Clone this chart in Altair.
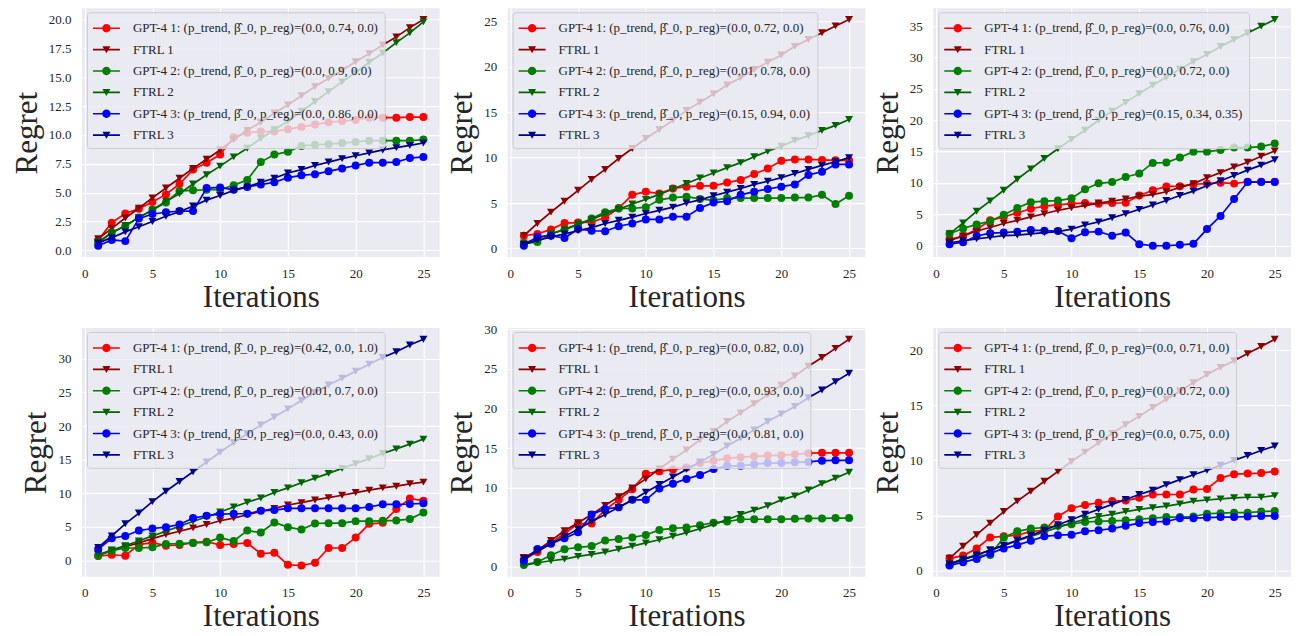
import altair as alt
import pandas as pd

# ---------------- data ----------------
ITERATIONS = list(range(1, 26))
X_TICKS = [0, 5, 10, 15, 20, 25]

SERIES = ["GPT-4 1", "FTRL 1", "GPT-4 2", "FTRL 2", "GPT-4 3", "FTRL 3"]
SERIES_ID = [0, 1, 2, 3, 4, 5]
COLORS = ["#ff0000", "#8b0000", "#008000", "#006400", "#0000ff", "#00008b"]
PARAM_NAME = "(p_trend, β̂_0, p_reg)"

# panel 1 (top-left)
P1_PARAMS = ["(0.0, 0.74, 0.0)", "(0.0, 0.9, 0.0)", "(0.0, 0.86, 0.0)"]
P1_YTICKS = [0, 2.5, 5, 7.5, 10, 12.5, 15, 17.5, 20]
P1_GPT1 = [0.9, 2.4, 3.2, 3.6, 4.2, 4.85, 5.75, 7.0, 7.6, 8.3, 9.8, 10.2, 10.3, 10.3, 10.5, 10.7, 10.9, 11.1, 11.2, 11.3, 11.5, 11.5, 11.5, 11.55, 11.55]
P1_FTRL1 = [1.0, 1.9, 2.8, 3.65, 4.55, 5.4, 6.25, 7.1, 7.9, 8.7, 9.6, 10.4, 11.1, 11.9, 12.6, 13.4, 14.2, 14.9, 15.6, 16.35, 17.05, 17.8, 18.5, 19.3, 20.0]
P1_GPT2 = [0.7, 1.55, 2.1, 2.85, 3.5, 4.15, 5.15, 5.2, 5.25, 5.25, 5.65, 6.1, 7.65, 8.3, 8.55, 9.05, 9.15, 9.2, 9.3, 9.4, 9.5, 9.5, 9.5, 9.5, 9.6]
P1_FTRL2 = [0.7, 1.5, 2.15, 2.85, 3.5, 4.25, 4.9, 5.75, 6.55, 7.3, 8.1, 8.85, 9.7, 10.45, 11.2, 12.05, 12.9, 13.75, 14.6, 15.4, 16.3, 17.1, 18.0, 18.85, 19.8]
P1_GPT3 = [0.4, 0.9, 0.8, 2.75, 3.15, 3.3, 3.4, 3.4, 5.4, 5.45, 5.25, 5.5, 5.7, 5.9, 6.3, 6.5, 6.6, 6.85, 7.1, 7.35, 7.6, 7.6, 7.65, 8.0, 8.1]
P1_FTRL3 = [0.65, 1.1, 1.6, 2.05, 2.5, 2.95, 3.35, 3.85, 4.35, 4.75, 5.2, 5.5, 5.9, 6.25, 6.7, 7.0, 7.35, 7.65, 7.95, 8.2, 8.45, 8.7, 8.9, 9.1, 9.3]

# panel 2 (top-middle)
P2_PARAMS = ["(0.0, 0.72, 0.0)", "(0.01, 0.78, 0.0)", "(0.15, 0.94, 0.0)"]
P2_YTICKS = [0, 5, 10, 15, 20, 25]
P2_GPT1 = [1.4, 1.6, 2.1, 2.8, 2.85, 2.9, 3.4, 4.45, 5.9, 6.25, 6.05, 6.6, 6.8, 6.9, 6.9, 7.25, 7.55, 8.2, 8.8, 9.65, 9.8, 9.8, 9.75, 9.7, 9.7]
P2_FTRL1 = [1.4, 2.75, 4.0, 5.2, 6.4, 7.6, 8.7, 9.9, 11.0, 12.1, 13.1, 14.1, 15.2, 16.1, 17.0, 18.0, 18.8, 19.7, 20.5, 21.3, 22.25, 23.0, 23.75, 24.5, 25.2]
P2_GPT2 = [0.55, 0.7, 1.6, 2.1, 2.6, 3.3, 4.0, 4.4, 4.4, 4.55, 5.35, 5.6, 5.7, 5.45, 5.3, 5.55, 5.55, 5.55, 5.55, 5.55, 5.6, 5.6, 5.9, 4.9, 5.8]
P2_FTRL2 = [0.6, 1.1, 1.6, 2.1, 2.7, 3.2, 3.8, 4.3, 4.9, 5.4, 5.95, 6.55, 7.15, 7.75, 8.3, 8.9, 9.45, 10.1, 10.7, 11.25, 11.9, 12.4, 13.0, 13.55, 14.2]
P2_GPT3 = [0.3, 1.3, 1.4, 1.15, 2.15, 1.95, 1.9, 2.45, 2.75, 3.2, 3.2, 3.5, 3.5, 4.45, 5.05, 5.2, 5.9, 6.25, 6.55, 6.8, 7.05, 8.1, 8.45, 9.25, 9.25]
P2_FTRL3 = [0.45, 0.9, 1.25, 1.6, 1.95, 2.3, 2.75, 3.1, 3.45, 3.85, 4.2, 4.55, 5.0, 5.35, 5.8, 6.2, 6.6, 7.05, 7.4, 7.8, 8.25, 8.7, 9.15, 9.55, 10.0]

# panel 3 (top-right)
P3_PARAMS = ["(0.0, 0.76, 0.0)", "(0.0, 0.72, 0.0)", "(0.15, 0.34, 0.35)"]
P3_YTICKS = [0, 5, 10, 15, 20, 25, 30, 35]
P3_GPT1 = [1.0, 1.55, 2.6, 4.05, 4.6, 5.25, 5.9, 6.3, 6.5, 6.7, 6.8, 6.7, 6.8, 6.85, 8.0, 8.85, 9.45, 9.5, 9.8, 9.9, 10.05, 9.9, 10.2, 10.2, 10.2]
P3_FTRL1 = [0.8, 1.55, 2.35, 2.9, 3.55, 4.05, 4.6, 5.1, 5.65, 6.05, 6.4, 6.8, 7.1, 7.45, 7.9, 8.15, 8.6, 9.3, 9.9, 10.85, 11.65, 12.55, 13.3, 14.25, 15.1]
P3_GPT2 = [1.9, 2.75, 3.4, 3.9, 4.95, 6.0, 6.95, 7.1, 7.2, 7.55, 9.0, 9.95, 10.15, 10.95, 11.5, 13.2, 13.25, 14.05, 15.0, 15.0, 15.25, 15.65, 15.65, 15.8, 16.3]
P3_FTRL2 = [1.9, 3.65, 5.5, 7.15, 8.85, 10.6, 12.25, 13.9, 15.45, 16.95, 18.4, 20.0, 21.45, 22.85, 24.25, 25.6, 26.85, 28.15, 29.35, 30.5, 31.75, 32.85, 33.9, 35.0, 36.05]
P3_GPT3 = [0.25, 0.55, 1.55, 2.0, 2.1, 2.25, 2.5, 2.4, 2.35, 1.2, 2.15, 2.25, 1.6, 2.1, 0.25, 0.0, 0.0, 0.15, 0.3, 2.65, 4.75, 7.45, 10.15, 10.15, 10.15]
P3_FTRL3 = [0.45, 0.8, 1.1, 1.35, 1.6, 1.7, 1.9, 2.1, 2.25, 2.65, 3.3, 3.8, 4.45, 5.1, 5.8, 6.5, 7.2, 8.0, 8.7, 9.55, 10.35, 11.2, 12.05, 12.85, 13.7]

# panel 4 (bottom-left)
P4_PARAMS = ["(0.42, 0.0, 1.0)", "(0.01, 0.7, 0.0)", "(0.0, 0.43, 0.0)"]
P4_YTICKS = [0, 5, 10, 15, 20, 25, 30]
P4_GPT1 = [0.65, 0.85, 0.7, 2.35, 2.65, 2.2, 2.3, 2.65, 2.8, 2.3, 2.45, 2.6, 1.0, 1.15, -0.65, -0.75, -0.35, 1.85, 1.85, 3.4, 5.45, 5.6, 7.65, 9.2, 8.9]
P4_FTRL1 = [0.85, 1.45, 2.05, 2.6, 3.25, 3.85, 4.35, 4.85, 5.35, 5.9, 6.3, 6.8, 7.3, 7.75, 8.25, 8.6, 9.0, 9.35, 9.7, 10.1, 10.45, 10.8, 11.05, 11.4, 11.65]
P4_GPT2 = [0.7, 1.45, 1.85, 1.85, 1.95, 2.45, 2.5, 2.6, 2.7, 3.4, 2.9, 4.45, 4.15, 5.65, 4.95, 4.6, 5.5, 5.55, 5.55, 5.85, 5.85, 5.9, 5.95, 6.15, 7.15]
P4_FTRL2 = [0.85, 1.55, 2.2, 2.9, 3.65, 4.35, 5.1, 5.8, 6.5, 7.2, 7.95, 8.65, 9.3, 10.1, 10.8, 11.55, 12.25, 12.95, 13.7, 14.4, 15.15, 15.9, 16.6, 17.3, 18.05]
P4_GPT3 = [1.7, 3.3, 3.65, 4.45, 4.75, 4.95, 5.35, 6.3, 6.65, 6.9, 6.95, 6.95, 7.4, 7.5, 7.75, 7.75, 7.75, 7.75, 7.75, 7.75, 7.95, 8.35, 8.35, 8.4, 8.5]
P4_FTRL3 = [1.95, 3.65, 5.45, 7.05, 8.75, 10.3, 11.75, 13.2, 14.65, 16.1, 17.5, 18.85, 20.15, 21.35, 22.55, 23.8, 25.0, 26.1, 27.1, 28.15, 29.2, 30.2, 31.05, 32.05, 32.9]

# panel 5 (bottom-middle)
P5_PARAMS = ["(0.0, 0.82, 0.0)", "(0.0, 0.93, 0.0)", "(0.0, 0.81, 0.0)"]
P5_YTICKS = [0, 5, 10, 15, 20, 25, 30]
P5_GPT1 = [0.9, 1.85, 3.0, 4.2, 5.45, 5.45, 7.2, 8.45, 9.8, 11.75, 12.05, 12.3, 12.55, 13.1, 13.4, 13.7, 13.85, 13.95, 14.05, 14.1, 14.2, 14.35, 14.4, 14.4, 14.4]
P5_FTRL1 = [1.15, 2.05, 3.3, 4.55, 5.55, 6.6, 7.75, 8.85, 9.95, 11.1, 12.35, 13.6, 14.75, 16.05, 17.1, 18.35, 19.45, 20.6, 21.75, 22.95, 24.1, 25.35, 26.45, 27.6, 28.75]
P5_GPT2 = [0.2, 0.6, 1.45, 2.2, 2.45, 2.6, 3.3, 3.5, 3.7, 4.0, 4.65, 4.85, 4.95, 5.25, 5.55, 5.7, 6.0, 6.0, 6.0, 6.0, 6.05, 6.1, 6.1, 6.15, 6.15]
P5_FTRL2 = [0.15, 0.5, 0.75, 0.95, 1.3, 1.55, 1.85, 2.2, 2.6, 3.0, 3.4, 3.85, 4.3, 4.8, 5.35, 5.95, 6.6, 7.15, 7.7, 8.45, 8.95, 9.7, 10.5, 11.2, 11.95]
P5_GPT3 = [0.75, 2.25, 2.9, 3.6, 4.35, 6.6, 7.3, 7.5, 8.45, 8.45, 9.9, 10.5, 11.1, 11.6, 12.35, 12.75, 12.75, 12.95, 13.1, 13.1, 13.2, 13.25, 13.4, 13.45, 13.45]
P5_FTRL3 = [1.05, 1.95, 2.9, 3.8, 4.75, 5.7, 6.6, 7.5, 8.4, 9.4, 10.4, 11.35, 12.3, 13.25, 14.2, 15.25, 16.25, 17.3, 18.35, 19.3, 20.25, 21.35, 22.35, 23.4, 24.45]

# panel 6 (bottom-right)
P6_PARAMS = ["(0.0, 0.71, 0.0)", "(0.0, 0.72, 0.0)", "(0.0, 0.75, 0.0)"]
P6_YTICKS = [0, 5, 10, 15, 20]
P6_GPT1 = [1.1, 1.35, 2.0, 3.0, 3.1, 3.2, 3.55, 3.65, 4.9, 5.65, 5.95, 6.15, 6.3, 6.35, 6.6, 6.9, 6.9, 6.9, 7.35, 7.4, 8.4, 8.75, 8.8, 8.85, 9.0]
P6_FTRL1 = [1.1, 2.2, 3.25, 4.3, 5.35, 6.3, 7.2, 8.1, 9.0, 9.9, 10.75, 11.6, 12.45, 13.25, 14.0, 14.8, 15.55, 16.3, 17.05, 17.8, 18.45, 19.05, 19.7, 20.35, 21.0]
P6_GPT2 = [0.5, 1.0, 1.35, 1.4, 3.0, 3.55, 3.8, 3.9, 4.05, 4.2, 4.4, 4.45, 4.5, 4.55, 4.65, 4.75, 4.85, 4.85, 4.9, 5.15, 5.2, 5.25, 5.25, 5.35, 5.4]
P6_FTRL2 = [0.6, 1.05, 1.4, 1.85, 2.25, 2.7, 3.1, 3.5, 3.9, 4.3, 4.65, 4.9, 5.1, 5.35, 5.55, 5.7, 5.85, 6.05, 6.3, 6.4, 6.5, 6.6, 6.65, 6.65, 6.8]
P6_GPT3 = [0.45, 0.75, 1.05, 1.55, 2.0, 2.3, 2.7, 3.1, 3.2, 3.25, 3.55, 3.65, 3.8, 4.05, 4.3, 4.4, 4.45, 4.75, 4.75, 4.8, 4.85, 4.85, 4.9, 4.95, 4.95]
P6_FTRL3 = [0.6, 1.0, 1.4, 1.85, 2.3, 2.75, 3.2, 3.65, 4.15, 4.6, 5.1, 5.55, 6.0, 6.45, 6.9, 7.3, 7.8, 8.25, 8.7, 9.1, 9.55, 10.0, 10.45, 10.9, 11.3]

PANELS = [
    (P1_PARAMS, [P1_GPT1, P1_FTRL1, P1_GPT2, P1_FTRL2, P1_GPT3, P1_FTRL3], P1_YTICKS, ".1f"),
    (P2_PARAMS, [P2_GPT1, P2_FTRL1, P2_GPT2, P2_FTRL2, P2_GPT3, P2_FTRL3], P2_YTICKS, "d"),
    (P3_PARAMS, [P3_GPT1, P3_FTRL1, P3_GPT2, P3_FTRL2, P3_GPT3, P3_FTRL3], P3_YTICKS, "d"),
    (P4_PARAMS, [P4_GPT1, P4_FTRL1, P4_GPT2, P4_FTRL2, P4_GPT3, P4_FTRL3], P4_YTICKS, "d"),
    (P5_PARAMS, [P5_GPT1, P5_FTRL1, P5_GPT2, P5_FTRL2, P5_GPT3, P5_FTRL3], P5_YTICKS, "d"),
    (P6_PARAMS, [P6_GPT1, P6_FTRL1, P6_GPT2, P6_FTRL2, P6_GPT3, P6_FTRL3], P6_YTICKS, "d"),
]

# ---------------- style ----------------
FONT = "Liberation Serif"
TEXT = "#262626"
PANEL_W, PANEL_H = 358, 249

# legend glyphs (fill only): a thin bar with the marker in its middle
# unit = sqrt(symbolSize)/2 px
_BAR = "M-1,-0.08L1.7,-0.08L1.7,0.08L-1,0.08Z"
LEG_CIRCLE = _BAR + "M0.77,0A0.42,0.42,0,1,1,-0.07,0A0.42,0.42,0,1,1,0.77,0Z"
LEG_TRI = _BAR + "M-0.05,-0.34L0.75,-0.34L0.35,0.36Z"
LEG_SHAPES = [LEG_CIRCLE, LEG_TRI] * 3


def make_panel(params, values, yticks, yfmt):
    labels = []
    for i, name in enumerate(SERIES):
        if name.startswith("GPT"):
            labels.append(f"{name}: {PARAM_NAME}={params[i // 2]}")
        else:
            labels.append(name)
    rows = []
    for sid, lab, vals in zip(SERIES_ID, labels, values):
        for it, v in zip(ITERATIONS, vals):
            rows.append({"iter": it, "regret": v, "sid": sid, "series": lab})
    df = pd.DataFrame(rows)

    xlo, xhi = min(ITERATIONS), max(ITERATIONS)
    xm = 0.05 * (xhi - xlo)
    ylo, yhi = df["regret"].min(), df["regret"].max()
    ym = 0.05 * (yhi - ylo)

    x = alt.X("iter:Q", scale=alt.Scale(domain=[xlo - xm, xhi + xm], nice=False, zero=False),
              axis=alt.Axis(values=X_TICKS, format="d", title="Iterations"))
    y = alt.Y("regret:Q", scale=alt.Scale(domain=[ylo - ym, yhi + ym], nice=False, zero=False),
              axis=alt.Axis(values=yticks, format=yfmt, title="Regret"))
    color = alt.Color("sid:N", scale=alt.Scale(domain=SERIES_ID, range=COLORS), legend=None)

    base = alt.Chart(df)
    layers = []
    for sid in SERIES_ID:
        sub = base.transform_filter(f"datum.sid == {sid}")
        layers.append(sub.mark_line(strokeWidth=1.7).encode(x=x, y=y, color=color))
        layers.append(sub.mark_point(filled=True, opacity=1, size=64,
                                     shape="circle" if sid % 2 == 0 else "triangle-down")
                      .encode(x=x, y=y, color=color))

    leg = alt.Legend(title=None, orient="none", legendX=5, legendY=4)
    legend_layer = base.transform_filter("datum.iter < 0").mark_point(
        filled=True, opacity=1
    ).encode(
        x=x, y=y,
        fill=alt.Fill("series:N", scale=alt.Scale(domain=labels, range=COLORS), legend=leg),
        shape=alt.Shape("series:N", scale=alt.Scale(domain=labels, range=LEG_SHAPES), legend=leg),
    )
    layers.append(legend_layer)
    return alt.layer(*layers).properties(width=PANEL_W, height=PANEL_H)


panels = [make_panel(*p) for p in PANELS]

chart = alt.concat(
    *panels, columns=3, spacing={"row": 71, "column": 68}, bounds="flush"
).resolve_scale(
    color="independent", fill="independent", shape="independent"
).properties(
    padding={"left": 3, "top": 0, "right": 0, "bottom": 0}
).configure_view(
    fill="#EAEAF2", stroke=None
).configure_axis(
    labelFont=FONT, labelFontSize=13, labelColor=TEXT,
    titleFont=FONT, titleFontSize=31, titleFontWeight="normal", titleColor=TEXT,
    domain=False, ticks=False, tickSize=0, grid=True, gridColor="#ffffff", gridWidth=1.1, gridOpacity=1,
    labelFlush=False, labelOverlap=False,
).configure_axisX(
    labelPadding=10, titlePadding=2
).configure_axisY(
    labelPadding=11, titlePadding=5
).configure_legend(
    padding=6, fillColor="rgba(234,234,242,0.8)", strokeColor="#cccccc", cornerRadius=3,
    labelFont=FONT, labelFontSize=13, labelColor=TEXT, labelLimit=500,
    symbolSize=400, symbolStrokeWidth=0, labelOffset=20, rowPadding=4.4,
)

chart.save("out.html", embed_options={"renderer": "svg", "actions": False})
